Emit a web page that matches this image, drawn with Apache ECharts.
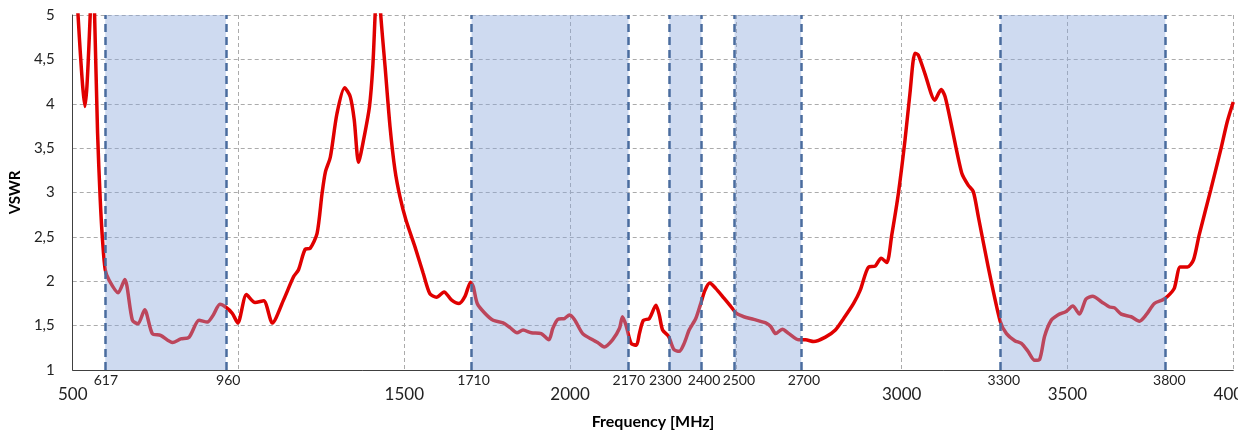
<!DOCTYPE html>
<html>
<head>
<meta charset="utf-8">
<script src="https://cdn.jsdelivr.net/npm/echarts@6/dist/echarts.min.js"></script>
<style>
html,body{margin:0;padding:0;background:#fff;}
#chart{width:1256px;height:435px;}
</style>
</head>
<body>
<div id="chart"></div>
<script>
// Frequency (MHz) and VSWR
const freq = [510,520,530,537,543,550,556,560,566,575,583,590,598,610,637,657,680,697,717,740,765,801,826,851,881,906,924,944,961,981,998,1024,1050,1076,1102,1136,1166,1181,1201,1216,1237,1252,1262,1277,1297,1320,1337,1349,1362,1377,1395,1405,1412,1420,1429,1442,1457,1472,1487,1505,1532,1557,1577,1597,1620,1642,1665,1683,1700,1708,1720,1743,1768,1798,1818,1840,1858,1883,1913,1936,1948,1963,1983,1998,2013,2038,2068,2083,2103,2128,2149,2158,2169,2184,2200,2209,2221,2239,2259,2269,2279,2297,2313,2329,2344,2359,2379,2394,2407,2421,2439,2464,2484,2501,2524,2554,2590,2605,2620,2640,2660,2690,2710,2735,2770,2800,2825,2855,2875,2900,2920,2938,2955,2970,2990,3010,3025,3040,3050,3070,3100,3119,3131,3151,3181,3201,3216,3231,3261,3297,3316,3341,3361,3381,3401,3416,3431,3451,3471,3496,3516,3536,3556,3576,3602,3627,3642,3662,3692,3717,3737,3762,3787,3802,3822,3840,3862,3880,3897,3932,3962,3982,4000];
const vswr = [5.4,4.75,4.2,3.97,4.2,4.75,5.3,5.6,5.0,3.67,2.92,2.46,2.13,2.01,1.87,2.02,1.56,1.52,1.68,1.41,1.39,1.31,1.35,1.37,1.56,1.54,1.62,1.74,1.71,1.64,1.53,1.85,1.76,1.78,1.53,1.79,2.05,2.13,2.36,2.37,2.54,2.99,3.23,3.40,3.89,4.18,4.08,3.82,3.34,3.59,3.97,4.42,5.0,5.6,5.0,4.42,3.74,3.25,2.95,2.69,2.39,2.09,1.86,1.82,1.88,1.79,1.75,1.83,1.99,1.94,1.75,1.64,1.56,1.53,1.48,1.42,1.45,1.42,1.41,1.34,1.47,1.57,1.58,1.62,1.57,1.41,1.34,1.31,1.26,1.34,1.47,1.60,1.50,1.30,1.28,1.41,1.56,1.58,1.73,1.62,1.45,1.38,1.23,1.21,1.30,1.45,1.58,1.75,1.90,1.98,1.92,1.81,1.72,1.64,1.60,1.57,1.53,1.49,1.41,1.46,1.41,1.34,1.34,1.32,1.37,1.45,1.58,1.75,1.90,2.16,2.17,2.26,2.21,2.52,2.99,3.59,4.12,4.57,4.55,4.34,4.04,4.16,4.08,3.74,3.22,3.08,3.01,2.73,2.16,1.55,1.41,1.33,1.30,1.21,1.11,1.12,1.38,1.56,1.62,1.66,1.72,1.63,1.80,1.83,1.77,1.71,1.70,1.63,1.60,1.55,1.62,1.75,1.79,1.83,1.92,2.16,2.16,2.24,2.52,3.03,3.48,3.80,4.02];

// Band boundaries: where the dashed lines are drawn, where their labels sit, and the printed labels
const bandEdges = [598, 962, 1703, 2176, 2299, 2396, 2496, 2697, 3298, 3795];
const bandLabelPos = [600, 969, 1709, 2177, 2287, 2404, 2509, 2705, 3308, 3807];
const bandEdgeLabels = ['617','960','1710','2170','2300','2400','2500','2700','3300','3800'];
const bands = [[598,962],[1703,2176],[2299,2396],[2496,2697],[3298,3795]];

// Main axis tick labels
const xTicksShown = [500, 1500, 2000, 3000, 3500, 4000];
const yTicks = [1, 1.5, 2, 2.5, 3, 3.5, 4, 4.5, 5];

const FONT = 'Lato';
const chart = echarts.init(document.getElementById('chart'), null, {renderer: 'canvas'});

const option = {
  animation: false,
  backgroundColor: '#ffffff',
  grid: {left: 72, right: 20, top: 15, bottom: 65, containLabel: false},
  xAxis: [
    {
      type: 'value', min: 500, max: 4000, interval: 500, position: 'bottom',
      name: 'Frequency [MHz]', nameLocation: 'middle', nameGap: 44,
      nameTextStyle: {fontFamily: FONT, fontWeight: 'bold', fontSize: 16, color: '#000'},
      axisLine: {show: true, onZero: false, lineStyle: {color: '#404040', width: 1}},
      axisTick: {show: false},
      axisLabel: {
        margin: 16, fontFamily: FONT, fontSize: 17, color: '#222',
        formatter: v => xTicksShown.indexOf(v) >= 0 ? String(v) : ''
      },
      splitLine: {show: true, lineStyle: {color: '#ababab', type: [4, 3], width: 1}}
    },
    {
      type: 'value', min: 500, max: 4000, position: 'bottom', offset: 0,
      axisLine: {show: false}, axisTick: {show: false}, splitLine: {show: false},
      axisLabel: {
        customValues: bandLabelPos, margin: 3, fontFamily: FONT, fontSize: 14, color: '#222',
        formatter: v => { const i = bandLabelPos.indexOf(v); return i >= 0 ? bandEdgeLabels[i] : ''; }
      }
    }
  ],
  yAxis: {
    type: 'value', min: 1, max: 5, interval: 0.5,
    name: 'VSWR', nameLocation: 'middle', nameGap: 48, nameRotate: 90,
    nameTextStyle: {fontFamily: FONT, fontWeight: 'bold', fontSize: 15, color: '#000'},
    axisLine: {show: true, lineStyle: {color: '#404040', width: 1}},
    axisTick: {show: false},
    axisLabel: {
      margin: 18, fontFamily: FONT, fontSize: 15, color: '#222',
      formatter: v => yTicks.indexOf(v) >= 0 ? String(v).replace('.', ',') : ''
    },
    splitLine: {show: true, lineStyle: {color: '#ababab', type: [4, 3], width: 1}}
  },
  series: [
    {
      type: 'line', name: 'VSWR', z: 2,
      data: freq.map((f, i) => [f, vswr[i]]),
      showSymbol: false, symbol: 'none', smooth: 0.25, clip: true,
      lineStyle: {color: '#e00000', width: 3.5},
      itemStyle: {color: '#e00000'}
    },
    {
      type: 'line', name: 'bands', z: 3, data: [], symbol: 'none',
      markArea: {
        silent: true, z: 3,
        itemStyle: {color: 'rgba(139,168,219,0.42)'},
        data: bands.map(b => [{xAxis: b[0]}, {xAxis: b[1]}])
      }
    },
    {
      type: 'line', name: 'edges', z: 4, data: [], symbol: 'none',
      markLine: {
        silent: true, z: 4, symbol: ['none', 'none'], animation: false,
        label: {show: false},
        lineStyle: {color: '#4a6c9e', type: [8, 5], width: 2.5},
        data: bandEdges.map(e => ({xAxis: e}))
      }
    }
  ],
  graphic: [
    {type: 'rect', left: 1238, top: 373, shape: {width: 18, height: 40}, style: {fill: '#ffffff'}, z: 100, silent: true}
  ]
};
chart.setOption(option);
</script>
</body>
</html>
